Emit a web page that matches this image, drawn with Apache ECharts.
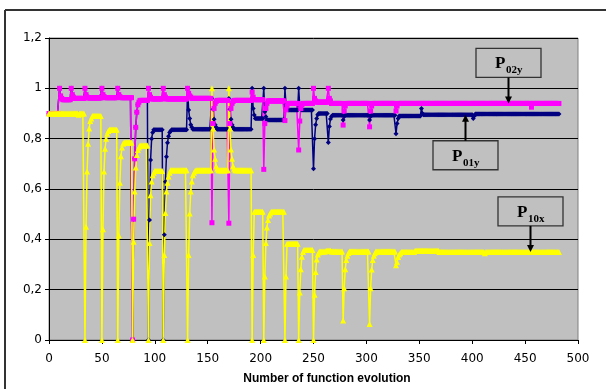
<!DOCTYPE html>
<html><head><meta charset="utf-8">
<script src="https://cdn.jsdelivr.net/npm/echarts@6/dist/echarts.min.js"></script>
<style>html,body{margin:0;padding:0;background:#fff}#c{width:606px;height:389px}</style>
</head><body><div id="c"></div>
<script>
// Number of function evolution: index 0..482 (one value per evaluation)
const p01y = [
0.9,0.9,0.9,0.9,0.9,0.9,0.9,0.9,0.9,0.9,
1,0.97,0.96,0.955,0.955,0.955,0.955,0.955,0.955,0.955,
0.955,1,0.975,0.965,0.96,0.96,0.96,0.96,0.96,0.96,
0.96,0.96,0.96,0.96,1,0.975,0.965,0.962,0.962,0.962,
0.962,0.962,0.962,0.962,0.962,0.962,0.962,0.962,0.962,0.962,
1,0.975,0.967,0.963,0.963,0.963,0.963,0.963,0.963,0.963,
0.963,0.963,0.963,0.963,0.963,1,0.975,0.967,0.963,0.963,
0.963,0.963,0.963,0.963,0.963,0.963,0.963,0.963,0.963,0,
0.48,0.72,0.845,0.905,0.935,0.945,0.952,0.952,0.952,0.952,
0.952,0.952,0.952,0.952,0,0.477,0.715,0.8,0.825,0.835,
0.835,0.835,0.835,0.835,0.835,0.835,0.835,0.835,0,0.418,
0.629,0.728,0.784,0.81,0.825,0.83,0.835,0.835,0.835,0.835,
0.835,0.835,0.835,0.835,0.835,0.835,0.835,0.835,0.835,0.835,
0.835,1,0.914,0.88,0.855,0.845,0.837,0.837,0.837,0.837,
0.837,0.837,0.837,0.837,0.837,0.837,0.837,0.837,0.837,0.837,
0.837,0.837,0.837,0.837,0.96,0.917,0.877,0.855,0.845,0.837,
0.837,0.837,0.837,0.837,0.837,0.837,0.837,0.837,0.837,0.837,
0.96,0.917,0.877,0.855,0.845,0.837,0.837,0.837,0.837,0.837,
0.837,0.837,0.837,0.837,0.837,0.837,0.837,0.837,0.837,0.837,
0.837,0.837,1,0.92,0.894,0.88,0.88,0.88,0.88,0.88,
0.88,0.88,0.88,1,0.907,0.887,0.874,0.874,0.874,0.874,
0.874,0.874,0.874,0.874,0.874,0.874,0.874,0.874,0.874,0.874,
0.874,0.874,0.874,1,0.935,0.92,0.914,0.914,0.914,0.914,
0.914,0.914,0.914,0.914,0.914,0.914,1,0.93,0.918,0.914,
0.914,0.914,0.914,0.914,0.914,0.914,0.914,0.914,0.914,0.914,
0.68,0.8,0.855,0.88,0.895,0.9,0.9,0.9,0.9,0.9,
0.9,0.9,0.9,0.9,0.785,0.848,0.878,0.888,0.893,0.893,
0.893,0.893,0.893,0.893,0.893,0.893,0.893,0.893,0.874,0.888,
0.893,0.893,0.893,0.893,0.893,0.893,0.893,0.893,0.893,0.893,
0.893,0.893,0.893,0.893,0.893,0.893,0.893,0.893,0.893,0.893,
0.893,0.893,0.893,0.874,0.888,0.893,0.893,0.893,0.893,0.893,
0.893,0.893,0.893,0.893,0.893,0.893,0.893,0.893,0.893,0.893,
0.893,0.893,0.893,0.893,0.893,0.893,0.893,0.893,0.82,0.86,
0.88,0.89,0.89,0.89,0.89,0.89,0.89,0.89,0.89,0.89,
0.89,0.89,0.89,0.89,0.89,0.89,0.89,0.89,0.89,0.89,
0.89,0.89,0.92,0.9,0.895,0.895,0.895,0.895,0.895,0.895,
0.895,0.895,0.895,0.895,0.895,0.895,0.895,0.895,0.895,0.895,
0.895,0.895,0.895,0.895,0.895,0.895,0.895,0.895,0.895,0.895,
0.895,0.895,0.895,0.895,0.895,0.895,0.895,0.895,0.895,0.895,
0.895,0.895,0.895,0.895,0.895,0.895,0.895,0.895,0.895,0.895,
0.895,0.88,0.89,0.898,0.898,0.898,0.898,0.898,0.898,0.898,
0.898,0.898,0.898,0.898,0.898,0.898,0.898,0.898,0.898,0.898,
0.898,0.898,0.898,0.898,0.898,0.898,0.898,0.898,0.898,0.898,
0.898,0.898,0.898,0.898,0.898,0.898,0.898,0.898,0.898,0.898,
0.898,0.898,0.898,0.898,0.898,0.898,0.898,0.898,0.898,0.898,
0.898,0.898,0.898,0.898,0.898,0.898,0.898,0.898,0.898,0.898,
0.898,0.898,0.898,0.898,0.898,0.898,0.898,0.898,0.898,0.898,
0.898,0.898,0.898,0.898,0.898,0.898,0.898,0.898,0.898,0.898,
0.898,0.898,0.898
];
const p02y = [
0.9,0.9,0.9,0.9,0.9,0.9,0.9,0.9,0.9,0.9,
1,0.97,0.96,0.955,0.955,0.955,0.955,0.955,0.955,0.955,
0.955,1,0.975,0.965,0.96,0.96,0.96,0.96,0.96,0.96,
0.96,0.96,0.96,0.96,1,0.975,0.965,0.962,0.962,0.962,
0.962,0.962,0.962,0.962,0.962,0.962,0.962,0.962,0.962,0.962,
1,0.975,0.967,0.963,0.963,0.963,0.963,0.963,0.963,0.963,
0.963,0.963,0.963,0.963,0.963,1,0.975,0.967,0.963,0.963,
0.963,0.963,0.963,0.963,0.963,0.963,0.963,0.963,0.963,0,
0.48,0.72,0.845,0.905,0.935,0.945,0.952,0.952,0.952,0.952,
0.952,0.952,0.952,0.952,1,0.975,0.965,0.958,0.958,0.958,
0.958,0.958,0.958,0.958,0.958,0.958,0.958,0.958,1,0.975,
0.965,0.958,0.958,0.958,0.958,0.958,0.958,0.958,0.958,0.958,
0.958,0.958,0.958,0.958,0.958,0.958,0.958,0.958,0.958,0.958,
0.958,1,0.98,0.97,0.965,0.96,0.96,0.96,0.96,0.96,
0.96,0.96,0.96,0.96,0.96,0.96,0.96,0.96,0.96,0.96,
0.96,0.96,0.96,0.96,0.466,0.86,0.92,0.94,0.948,0.952,
0.952,0.952,0.952,0.952,0.952,0.952,0.952,0.952,0.952,0.952,
0.464,0.86,0.92,0.94,0.948,0.952,0.952,0.952,0.952,0.952,
0.952,0.952,0.952,0.952,0.952,0.952,0.952,0.952,0.952,0.952,
0.952,0.952,0.985,0.965,0.955,0.955,0.955,0.955,0.955,0.955,
0.955,0.955,0.955,0.678,0.86,0.92,0.94,0.95,0.95,0.95,
0.95,0.95,0.95,0.95,0.95,0.95,0.95,0.95,0.95,0.95,
0.95,0.95,0.95,0.872,0.915,0.93,0.94,0.94,0.94,0.94,
0.94,0.94,0.94,0.94,0.94,0.94,0.755,0.87,0.92,0.935,
0.94,0.94,0.94,0.94,0.94,0.94,0.94,0.94,0.94,0.94,
1,0.96,0.95,0.945,0.945,0.945,0.945,0.945,0.945,0.945,
0.945,0.945,0.945,0.945,1,0.96,0.95,0.94,0.94,0.94,
0.94,0.94,0.94,0.94,0.94,0.94,0.94,0.94,0.854,0.91,
0.93,0.94,0.94,0.94,0.94,0.94,0.94,0.94,0.94,0.94,
0.94,0.94,0.94,0.94,0.94,0.94,0.94,0.94,0.94,0.94,
0.94,0.94,0.94,0.847,0.91,0.93,0.94,0.94,0.94,0.94,
0.94,0.94,0.94,0.94,0.94,0.94,0.94,0.94,0.94,0.94,
0.94,0.94,0.94,0.94,0.94,0.94,0.94,0.94,0.91,0.93,
0.94,0.94,0.94,0.94,0.94,0.94,0.94,0.94,0.94,0.94,
0.94,0.94,0.94,0.94,0.94,0.94,0.94,0.94,0.94,0.94,
0.94,0.94,0.94,0.94,0.94,0.94,0.94,0.94,0.94,0.94,
0.94,0.94,0.94,0.94,0.94,0.94,0.94,0.94,0.94,0.94,
0.94,0.94,0.94,0.94,0.94,0.94,0.94,0.94,0.94,0.94,
0.94,0.94,0.94,0.94,0.94,0.94,0.94,0.94,0.94,0.94,
0.94,0.94,0.94,0.94,0.94,0.94,0.94,0.94,0.94,0.94,
0.94,0.94,0.94,0.94,0.94,0.94,0.94,0.94,0.94,0.94,
0.94,0.94,0.94,0.94,0.94,0.94,0.94,0.94,0.94,0.94,
0.94,0.94,0.94,0.94,0.94,0.94,0.94,0.94,0.94,0.94,
0.94,0.94,0.94,0.94,0.94,0.94,0.94,0.94,0.94,0.94,
0.94,0.94,0.94,0.94,0.94,0.94,0.94,0.94,0.94,0.94,
0.94,0.94,0.94,0.94,0.94,0.94,0.925,0.94,0.94,0.94,
0.94,0.94,0.94,0.94,0.94,0.94,0.94,0.94,0.94,0.94,
0.94,0.94,0.94,0.94,0.94,0.94,0.94,0.94,0.94,0.94,
0.94,0.94,0.94
];
const p10x = [
0.9,0.9,0.9,0.9,0.9,0.9,0.9,0.9,0.9,0.9,
0.9,0.9,0.9,0.9,0.9,0.9,0.9,0.9,0.9,0.9,
0.9,0.9,0.9,0.9,0.9,0.9,0.9,0.9,0.895,0.9,
0.9,0.9,0.9,0.9,0,0.45,0.67,0.78,0.84,0.87,
0.88,0.89,0.89,0.89,0.89,0.89,0.89,0.89,0.89,0.89,
0,0.44,0.67,0.76,0.8,0.82,0.83,0.835,0.835,0.835,
0.835,0.835,0.835,0.835,0.835,0,0.415,0.625,0.73,0.765,
0.78,0.785,0.785,0.785,0.785,0.785,0.785,0.785,0.785,0,
0.39,0.59,0.685,0.735,0.755,0.765,0.773,0.773,0.773,0.773,
0.773,0.773,0.773,0.773,0,0.385,0.575,0.63,0.655,0.665,
0.672,0.672,0.672,0.672,0.672,0.672,0.672,0.672,0,0.338,
0.505,0.59,0.625,0.65,0.665,0.675,0.675,0.675,0.675,0.675,
0.675,0.675,0.675,0.675,0.675,0.675,0.675,0.675,0.675,0.675,
0.675,0,0.338,0.503,0.59,0.63,0.655,0.665,0.672,0.675,
0.675,0.675,0.675,0.675,0.675,0.675,0.675,0.675,0.675,0.675,
0.675,0.675,0.675,0.675,1,0.84,0.757,0.72,0.69,0.68,
0.675,0.675,0.675,0.675,0.675,0.675,0.675,0.675,0.675,0.675,
1,0.84,0.757,0.72,0.69,0.68,0.675,0.675,0.675,0.675,
0.675,0.675,0.675,0.675,0.675,0.675,0.675,0.675,0.675,0.675,
0.675,0.675,0,0.338,0.51,0.51,0.51,0.51,0.51,0.51,
0.51,0.51,0.51,0,0.252,0.385,0.447,0.477,0.495,0.503,
0.51,0.51,0.51,0.51,0.51,0.51,0.51,0.51,0.51,0.51,
0.51,0.51,0.51,0,0.252,0.382,0.382,0.382,0.382,0.382,
0.382,0.382,0.382,0.382,0.382,0.382,0,0.189,0.281,0.331,
0.35,0.358,0.358,0.358,0.358,0.358,0.358,0.358,0.358,0.358,
0,0.18,0.27,0.32,0.34,0.348,0.352,0.352,0.352,0.352,
0.352,0.352,0.355,0.355,0.355,0.355,0.355,0.352,0.352,0.352,
0.352,0.352,0.352,0.352,0.352,0.352,0.352,0.352,0.077,0.206,
0.281,0.318,0.335,0.346,0.352,0.352,0.352,0.352,0.352,0.352,
0.352,0.352,0.352,0.352,0.352,0.352,0.352,0.352,0.352,0.352,
0.352,0.352,0.352,0.064,0.206,0.28,0.318,0.335,0.345,0.352,
0.352,0.352,0.352,0.352,0.352,0.352,0.352,0.352,0.352,0.352,
0.352,0.352,0.352,0.352,0.352,0.352,0.352,0.352,0.297,0.31,
0.33,0.34,0.345,0.35,0.35,0.35,0.35,0.35,0.35,0.35,
0.35,0.35,0.35,0.35,0.35,0.35,0.355,0.355,0.355,0.355,
0.355,0.355,0.355,0.355,0.355,0.355,0.355,0.355,0.355,0.355,
0.355,0.355,0.355,0.355,0.355,0.355,0.355,0.355,0.355,0.35,
0.35,0.35,0.35,0.35,0.35,0.35,0.35,0.35,0.35,0.35,
0.35,0.35,0.35,0.35,0.35,0.35,0.35,0.35,0.35,0.35,
0.35,0.35,0.35,0.35,0.35,0.35,0.35,0.35,0.35,0.35,
0.35,0.35,0.35,0.35,0.35,0.35,0.35,0.35,0.35,0.35,
0.35,0.35,0.345,0.35,0.35,0.35,0.35,0.35,0.35,0.35,
0.35,0.35,0.35,0.35,0.35,0.35,0.35,0.35,0.35,0.35,
0.35,0.35,0.35,0.35,0.35,0.35,0.35,0.35,0.35,0.35,
0.35,0.35,0.35,0.35,0.35,0.35,0.35,0.35,0.35,0.35,
0.35,0.35,0.35,0.35,0.35,0.35,0.35,0.35,0.35,0.35,
0.35,0.35,0.35,0.35,0.35,0.35,0.35,0.35,0.35,0.35,
0.35,0.35,0.35,0.35,0.35,0.35,0.35,0.35,0.35,0.35,
0.35,0.35,0.35
];
const xTickLabels = ['0','50','100','150','200','250','300','350','400','450','500'];
const yTickLabels = ['0','0,2','0,4','0,6','0,8','1','1,2'];
const axisTitle = 'Number of function evolution';
// annotation labels, anchored at (evaluation, value) of the curve they point at
const annotations = [
  {main: 'P', sub: '02y', at: [434, 0.94], side: 'above'},
  {main: 'P', sub: '01y', at: [393, 0.895], side: 'below'},
  {main: 'P', sub: '10x', at: [455, 0.35], side: 'above'}
];

const chart = echarts.init(document.getElementById('c'), null, {renderer: 'canvas'});
const toXY = arr => arr.map((v, i) => [i, v]);
const lab = {color: '#000', fontFamily: 'DejaVu Sans', fontSize: 12};
function mkSeries(name, data, symbol, color, size) {
  return {
    name, type: 'line', data: toXY(data), symbol, symbolSize: size, showAllSymbol: true,
    lineStyle: {color, width: 1.5}, itemStyle: {color, borderWidth: 0},
    emphasis: {disabled: true}, animation: false
  };
}
chart.setOption({
  animation: false,
  backgroundColor: '#fff',
  grid: {left: 49, top: 38, width: 529, height: 302, show: true,
         backgroundColor: '#C0C0C0', borderColor: '#808080', borderWidth: 1},
  xAxis: {
    type: 'value', min: 0, max: 500, interval: 50,
    axisLine: {show: true, lineStyle: {color: '#000', width: 1}},
    axisTick: {show: true, length: 4, lineStyle: {color: '#000'}},
    axisLabel: Object.assign({margin: 13, formatter: v => xTickLabels[Math.round(v / 50)]}, lab),
    splitLine: {show: false}
  },
  yAxis: {
    type: 'value', min: 0, max: 1.2, interval: 0.2,
    axisLine: {show: true, lineStyle: {color: '#000', width: 1}},
    axisTick: {show: true, length: 4, lineStyle: {color: '#000'}},
    axisLabel: Object.assign({margin: 7, formatter: v => yTickLabels[Math.round(v / 0.2)]}, lab),
    splitLine: {show: true, lineStyle: {color: '#000', width: 1}}
  },
  series: [
    mkSeries('P01y', p01y, 'diamond', '#000080', 5),
    mkSeries('P02y', p02y, 'rect', '#FF00FF', 5),
    mkSeries('P10x', p10x, 'triangle', '#FFFF00', 6)
  ]
});

const g = [
  {type: 'line', z: 100, shape: {x1: 5, y1: 10, x2: 5, y2: 389}, style: {stroke: '#333', lineWidth: 2}},
  {type: 'line', z: 100, shape: {x1: 5, y1: 10, x2: 606, y2: 10}, style: {stroke: '#333', lineWidth: 2}},
  {type: 'text', z: 100, x: 327, y: 378.5, style: {text: axisTitle, fill: '#000', align: 'center', verticalAlign: 'middle',
     fontFamily: 'Liberation Sans', fontWeight: 'bold', fontSize: 12}}
];
const W = 65, H = 29, GAP = 26;
annotations.forEach(a => {
  const p = chart.convertToPixel({gridIndex: 0}, a.at);
  const tx = Math.round(p[0]) + 0.5, ty = p[1];
  let by, y1, head;
  if (a.side === 'above') {
    by = ty - GAP - H;
    y1 = by + H;
    head = [[tx, ty], [tx - 3.5, ty - 7], [tx + 3.5, ty - 7]];
  } else {
    by = ty + GAP;
    y1 = by;
    head = [[tx, ty], [tx - 3.5, ty + 7], [tx + 3.5, ty + 7]];
  }
  const bx = tx - W / 2;
  g.push({type: 'rect', z: 100, shape: {x: bx, y: by, width: W, height: H},
          style: {fill: 'rgba(0,0,0,0)', stroke: '#333', lineWidth: 1.3}});
  g.push({type: 'line', z: 100, shape: {x1: tx, y1: y1, x2: tx, y2: a.side === 'above' ? ty - 6 : ty + 6},
          style: {stroke: '#000', lineWidth: 2}});
  g.push({type: 'polygon', z: 100, shape: {points: head}, style: {fill: '#000'}});
  g.push({type: 'text', z: 100, x: bx + 19, y: by + 15.4, style: {text: a.main, fill: '#000',
          fontFamily: 'Liberation Serif', fontWeight: 'bold', fontSize: 17, align: 'left', verticalAlign: 'middle'}});
  g.push({type: 'text', z: 100, x: bx + 30, y: by + 22.1, style: {text: a.sub, fill: '#000',
          fontFamily: 'Liberation Serif', fontWeight: 'bold', fontSize: 11, align: 'left', verticalAlign: 'middle'}});
});
chart.setOption({graphic: g});
</script>
</body></html>
